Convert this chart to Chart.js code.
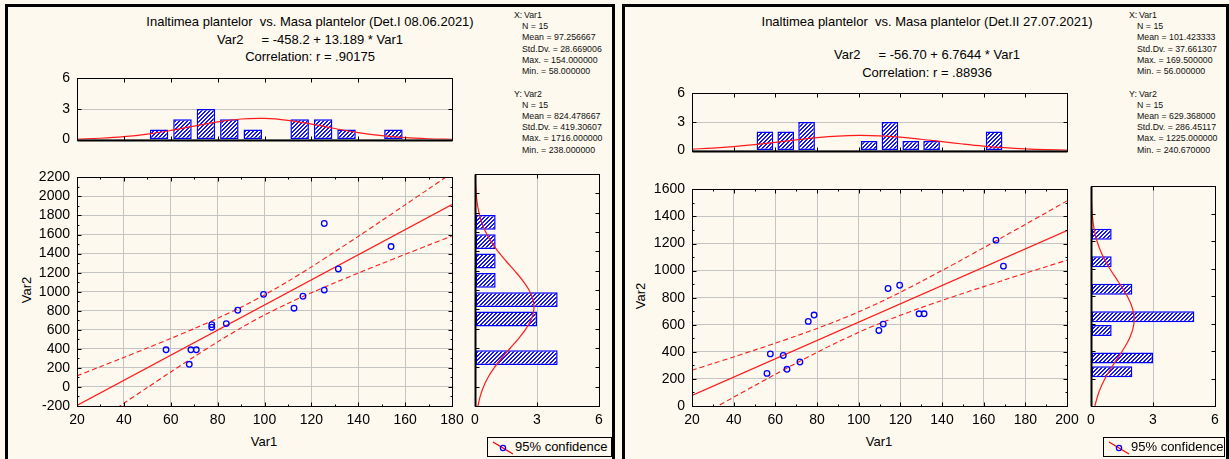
<!DOCTYPE html>
<html><head><meta charset="utf-8">
<script src="https://cdn.jsdelivr.net/npm/chart.js@4/dist/chart.umd.min.js"></script>
<style>
html,body{margin:0;padding:0;background:#fdf9ee;width:1229px;height:459px;overflow:hidden;font-family:"Liberation Sans",Arial,sans-serif;color:#000;}
.panel{position:absolute;top:4px;height:480px;border:3px solid #000;box-sizing:border-box;background:#fdf9ee;}
.t{position:absolute;white-space:pre;font-size:13px;line-height:15px;text-align:center;width:600px;}
.clip{position:absolute;overflow:hidden;}
.s{position:absolute;white-space:pre;font-size:8.8px;line-height:11px;color:#111;}
.ax{position:absolute;white-space:pre;font-size:13px;line-height:16px;text-align:center;width:60px;}
.rot{transform:rotate(-90deg);}
canvas{position:absolute;}
.leg{position:absolute;border:1px solid #000;box-sizing:border-box;height:20px;font-size:13px;line-height:18px;}
.leg svg{position:absolute;left:4px;top:2px;}
.leg span{position:absolute;left:27px;top:0;white-space:pre;}
</style></head><body>
<div class="panel" style="left:5px;width:610px;"></div>
<div class="panel" style="left:622px;width:607px;"></div>

<div class="t" style="left:10px;top:14px;">Inaltimea plantelor  vs. Masa plantelor (Det.I 08.06.2021)</div>
<div class="t" style="left:10px;top:32px;">Var2     = -458.2 + 13.189 * Var1</div>
<div class="t" style="left:10px;top:49px;">Correlation: r = .90175</div>

<div class="t" style="left:627px;top:14px;">Inaltimea plantelor  vs. Masa plantelor (Det.II 27.07.2021)</div>
<div class="t" style="left:627px;top:47px;">Var2     = -56.70 + 6.7644 * Var1</div>
<div class="t" style="left:627px;top:65px;">Correlation: r = .88936</div>

<div class="clip" id="statsL" style="left:510px;top:7px;width:102px;height:155px;"></div>
<div class="clip" id="statsR" style="left:1125px;top:7px;width:101px;height:155px;"></div>

<div class="ax rot" style="left:-3px;top:282px;">Var2</div>
<div class="ax" style="left:234px;top:434px;">Var1</div>
<div class="ax rot" style="left:611px;top:288px;">Var2</div>
<div class="ax" style="left:849px;top:434px;">Var1</div>

<canvas id="scL"></canvas><canvas id="thL"></canvas><canvas id="vhL"></canvas>
<canvas id="scR"></canvas><canvas id="thR"></canvas><canvas id="vhR"></canvas>

<div class="leg" style="left:487px;top:437px;width:125px;"><svg width="22" height="16"><line x1="1" y1="2" x2="21" y2="14" stroke="#ff0000" stroke-width="1.2"/><circle cx="11" cy="8" r="2.6" fill="none" stroke="#0000ff" stroke-width="1.3"/></svg><span>95% confidence</span></div>
<div class="leg" style="left:1103px;top:437px;width:122px;"><svg width="22" height="16"><line x1="1" y1="2" x2="21" y2="14" stroke="#ff0000" stroke-width="1.2"/><circle cx="11" cy="8" r="2.6" fill="none" stroke="#0000ff" stroke-width="1.3"/></svg><span>95% confidence</span></div>

<script>
// ---------------- DATA: Det.I 08.06.2021 ----------------
const var1_I = [58, 68.6, 70.9, 67.9, 77.5, 77.5, 83.7, 88.6, 99.6, 112.6, 116.4, 125.5, 125.5, 131.5, 154];
const var2_I = [390, 390, 390, 238, 654, 627, 665, 805, 972, 827, 952, 1716, 1017, 1239, 1474];
const fitX_I = [20, 180];
const fitY_I = [-194.4, 1915.8];
const bandX_I = [20, 30, 40, 50, 60, 70, 80, 90, 100, 110, 120, 130, 140, 150, 160, 170, 180];
const bandUp_I = [116.5, 213.0, 310.3, 408.8, 509.0, 612.2, 720.5, 837.3, 966.1, 1108.1, 1260.3, 1418.9, 1581.2, 1745.8, 1911.8, 2078.8, 2246.3];
const bandLo_I = [-505.3, -338.0, -171.5, -6.3, 157.3, 317.8, 473.3, 620.3, 755.3, 877.1, 988.7, 1093.9, 1195.3, 1294.5, 1392.2, 1489.0, 1585.3];
const histBinX_I = [55, 65, 75, 85, 95, 105, 115, 125, 135, 145, 155];
const histCntX_I = [1, 2, 3, 2, 1, 0, 2, 2, 1, 0, 1];
const normX_I = [20, 30, 40, 50, 60, 70, 80, 90, 100, 110, 120, 130, 140, 150, 160, 170, 180];
const normXv_I = [0.055, 0.133, 0.284, 0.537, 0.897, 1.328, 1.741, 2.021, 2.078, 1.891, 1.524, 1.087, 0.687, 0.384, 0.190, 0.083, 0.032];
const histBinY_I = [300, 500, 700, 900, 1100, 1300, 1500, 1700];
const histCntY_I = [4, 0, 3, 4, 1, 1, 1, 1];
const normY_I = [-200, -100, 0, 100, 200, 300, 400, 500, 600, 700, 800, 900, 1000, 1100, 1200, 1300, 1400, 1500, 1600, 1700, 1800, 1900, 2000, 2100, 2200];
const normYv_I = [0.144, 0.251, 0.413, 0.642, 0.942, 1.305, 1.710, 2.116, 2.473, 2.731, 2.849, 2.808, 2.615, 2.300, 1.911, 1.500, 1.113, 0.780, 0.516, 0.323, 0.191, 0.106, 0.056, 0.028, 0.013];
const stats_I = [["X:", "Var1"], ["", "N = 15"], ["", "Mean = 97.256667"], ["", "Std.Dv. = 28.669006"], ["", "Max. = 154.000000"], ["", "Min. = 58.000000"],
                 ["Y:", "Var2"], ["", "N = 15"], ["", "Mean = 824.478667"], ["", "Std.Dv. = 419.30607"], ["", "Max. = 1716.000000"], ["", "Min. = 238.000000"]];

// ---------------- DATA: Det.II 27.07.2021 ----------------
const var1_II = [56, 57.6, 63.8, 65.6, 71.8, 75.8, 78.6, 109.7, 111.8, 114.1, 119.7, 129, 131.4, 165.9, 169.5];
const var2_II = [240.67, 385, 373, 271, 325, 625, 672, 558, 605, 868, 892, 681, 681, 1225, 1033];
const fitX_II = [20, 200];
const fitY_II = [78.6, 1296.2];
const bandX_II = [20, 30, 40, 50, 60, 70, 80, 90, 100, 110, 120, 130, 140, 150, 160, 170, 180, 190, 200];
const bandUp_II = [264.4, 313.2, 362.6, 412.8, 464.1, 517.0, 572.4, 631.6, 695.6, 765.3, 840.1, 919.1, 1000.8, 1084.4, 1169.3, 1255.0, 1341.3, 1428.1, 1515.1];
const bandLo_II = [-107.2, -20.8, 65.1, 150.2, 234.3, 316.6, 396.5, 472.6, 543.9, 609.5, 669.9, 726.3, 779.8, 831.5, 881.9, 931.5, 980.5, 1029.0, 1077.3];
const histBinX_II = [55, 65, 75, 85, 95, 105, 115, 125, 135, 145, 155, 165];
const histCntX_II = [2, 2, 3, 0, 0, 1, 3, 1, 1, 0, 0, 2];
const normX_II = [20, 30, 40, 50, 60, 70, 80, 90, 100, 110, 120, 130, 140, 150, 160, 170, 180, 190, 200];
const normXv_II = [0.154, 0.263, 0.420, 0.626, 0.868, 1.122, 1.352, 1.518, 1.588, 1.548, 1.407, 1.191, 0.940, 0.692, 0.474, 0.303, 0.180, 0.100, 0.052];
const histBinY_II = [250, 350, 450, 550, 650, 750, 850, 950, 1050, 1150, 1250];
const histCntY_II = [2, 3, 0, 1, 5, 0, 2, 0, 1, 0, 1];
const normY_II = [0, 100, 200, 300, 400, 500, 600, 700, 800, 900, 1000, 1100, 1200, 1300, 1400, 1500, 1600];
const normYv_II = [0.187, 0.379, 0.679, 1.079, 1.516, 1.887, 2.078, 2.027, 1.750, 1.337, 0.905, 0.542, 0.287, 0.135, 0.056, 0.021, 0.007];
const stats_II = [["X:", "Var1"], ["", "N = 15"], ["", "Mean = 101.423333"], ["", "Std.Dv. = 37.661307"], ["", "Max. = 169.500000"], ["", "Min. = 56.000000"],
                  ["Y:", "Var2"], ["", "N = 15"], ["", "Mean = 629.368000"], ["", "Std.Dv. = 286.45117"], ["", "Max. = 1225.000000"], ["", "Min. = 240.670000"]];

// ---------------- rendering ----------------
const BLUE = '#0000ff', RED = '#ff1a1a', GRID = '#c4c4c4';
Chart.defaults.font.family = "'Liberation Sans', Arial, sans-serif";
Chart.defaults.color = '#000';

function statsText(el, rows) {
  const box = document.getElementById(el);
  rows.forEach((r, i) => {
    const top = (i < 6 ? 3 + i * 11.2 : 81.5 + (i - 6) * 11.2);
    if (r[0]) {
      const a = document.createElement('div'); a.className = 's';
      a.style.left = '4px'; a.style.top = top + 'px'; a.textContent = r[0]; box.appendChild(a);
    }
    const b = document.createElement('div'); b.className = 's';
    b.style.left = (r[0] ? 14 : 12) + 'px'; b.style.top = top + 'px'; b.textContent = r[1]; box.appendChild(b);
  });
}
statsText('statsL', stats_I);
statsText('statsR', stats_II);

function hatch() {
  const c = document.createElement('canvas'); c.width = 4; c.height = 4;
  const g = c.getContext('2d');
  g.fillStyle = '#ffffff'; g.fillRect(0, 0, 4, 4);
  g.fillStyle = '#1414ff';
  for (let y = 0; y < 4; y++) for (let x = 0; x < 4; x++) {
    const k = (x + y) % 4;
    if (k === 3 || k === 0) g.fillRect(x, y, 1, 1);
  }
  return g.createPattern(c, 'repeat');
}
const PAT = hatch();
const plain = v => String(v);

const frame = {
  id: 'frame',
  afterDatasetsDraw(chart, args, o) {
    const { ctx, chartArea: a, scales } = chart;
    const xs = scales.x, ys = scales.y;
    const L = Math.round(a.left) + .5, R = Math.round(a.right) + .5, T = Math.round(a.top) + .5, B = Math.round(a.bottom) + .5;
    ctx.save();
    ctx.strokeStyle = '#000'; ctx.lineWidth = 1;
    ctx.beginPath();
    const tk = (vals, len, horiz) => {
      vals.forEach(v => {
        if (horiz) {
          const p = Math.round(xs.getPixelForValue(v)) + .5;
          ctx.moveTo(p, B); ctx.lineTo(p, B - len); ctx.moveTo(p, T); ctx.lineTo(p, T + len);
        } else {
          const p = Math.round(ys.getPixelForValue(v)) + .5;
          ctx.moveTo(L, p); ctx.lineTo(L + len, p); ctx.moveTo(R, p); ctx.lineTo(R - len, p);
        }
      });
    };
    const xt = xs.ticks.map(t => t.value), yt = ys.ticks.map(t => t.value);
    tk(xt, 4, true); tk(yt, 4, false);
    if (o.minor) {
      const mid = arr => arr.slice(1).map((v, i) => (v + arr[i]) / 2);
      tk(mid(xt), 2, true); tk(mid(yt), 2, false);
    }
    ctx.stroke();
    ctx.strokeRect(L, T, R - L, B - T);
    if (o.thick === 'bottom') { ctx.lineWidth = 2; ctx.beginPath(); ctx.moveTo(L, B); ctx.lineTo(R, B); ctx.stroke(); }
    if (o.thick === 'left') { ctx.lineWidth = 2; ctx.beginPath(); ctx.moveTo(L, T); ctx.lineTo(L, B); ctx.stroke(); }
    ctx.restore();
  }
};

function place(id, rect, ml, mb) {
  const cv = document.getElementById(id);
  const w = rect[2] - rect[0] + ml + 32, h = rect[3] - rect[1] + 12 + mb + 4;
  cv.width = w; cv.height = h;
  cv.style.left = (rect[0] - ml - 12) + 'px'; cv.style.top = (rect[1] - 12) + 'px';
  cv.style.width = w + 'px'; cv.style.height = h + 'px';
  return cv;
}
const baseOpts = (frameOpts) => ({
  responsive: false, animation: false, devicePixelRatio: 1,
  layout: { padding: { left: 12, top: 12, right: 20, bottom: 4 } },
  plugins: { legend: { display: false }, tooltip: { enabled: false }, frame: frameOpts },
  events: []
});
const tickFont = { size: 14 };

function scatter(id, rect, X, Y, fx, fy, bx, bu, bl, xr, yr) {
  const ml = 60, mb = 24;
  const cv = place(id, rect, ml, mb);
  const o = baseOpts({ minor: true });
  o.scales = {
    x: { type: 'linear', min: xr[0], max: xr[1], afterFit: s => { s.height = mb; },
         ticks: { stepSize: xr[2], font: tickFont, padding: 6, maxRotation: 0, autoSkip: false, callback: plain },
         grid: { color: GRID, drawTicks: false }, border: { display: false } },
    y: { type: 'linear', min: yr[0], max: yr[1], afterFit: s => { s.width = ml; },
         ticks: { stepSize: yr[2], font: tickFont, padding: 7, autoSkip: false, callback: plain },
         grid: { color: GRID, drawTicks: false }, border: { display: false } }
  };
  new Chart(cv, {
    type: 'scatter',
    data: { datasets: [
      { data: X.map((x, i) => ({ x, y: Y[i] })), pointRadius: 2.8, pointBorderWidth: 1.3, borderColor: BLUE, backgroundColor: 'rgba(0,0,0,0)', pointStyle: 'circle' },
      { data: fx.map((x, i) => ({ x, y: fy[i] })), showLine: true, borderColor: RED, borderWidth: 1.2, pointRadius: 0 },
      { data: bx.map((x, i) => ({ x, y: bu[i] })), showLine: true, borderColor: RED, borderWidth: 1.1, borderDash: [5, 3], pointRadius: 0, tension: 0.3 },
      { data: bx.map((x, i) => ({ x, y: bl[i] })), showLine: true, borderColor: RED, borderWidth: 1.1, borderDash: [5, 3], pointRadius: 0, tension: 0.3 }
    ] },
    options: o, plugins: [frame]
  });
}

function topHist(id, rect, bins, cnt, nx, nv, xr, pct) {
  const ml = 60, mb = 0;
  const cv = place(id, rect, ml, mb);
  const o = baseOpts({ minor: false, thick: 'bottom' });
  o.scales = {
    x: { type: 'linear', offset: false, min: xr[0], max: xr[1], afterFit: s => { s.height = mb; },
         ticks: { stepSize: xr[2], display: false }, grid: { display: false, offset: false }, border: { display: false } },
    y: { type: 'linear', min: 0, max: 6, afterFit: s => { s.width = ml; },
         ticks: { stepSize: 3, font: tickFont, padding: 7, callback: plain }, grid: { color: GRID, drawTicks: false }, border: { display: false } }
  };
  new Chart(cv, {
    type: 'bar',
    data: { datasets: [
      { type: 'line', data: nx.map((x, i) => ({ x, y: nv[i] })), borderColor: RED, borderWidth: 1.2, pointRadius: 0, tension: 0.4, fill: false },
      { type: 'bar', data: bins.map((x, i) => ({ x, y: cnt[i] || null })), backgroundColor: PAT, borderColor: BLUE, borderWidth: 1.5, borderSkipped: false, categoryPercentage: 1, barPercentage: pct }
    ] },
    options: o, plugins: [frame]
  });
}

function vertHist(id, rect, bins, cnt, ny, nv, yr, pct) {
  const ml = 0, mb = 24;
  const cv = place(id, rect, ml, mb);
  const o = baseOpts({ minor: false, thick: 'left' });
  o.indexAxis = 'y';
  o.scales = {
    x: { type: 'linear', offset: false, min: 0, max: 6, afterFit: s => { s.height = mb; },
         ticks: { stepSize: 3, font: tickFont, padding: 6, maxRotation: 0, callback: plain }, grid: { color: GRID, drawTicks: false, offset: false }, border: { display: false } },
    y: { type: 'linear', offset: false, min: yr[0], max: yr[1], afterFit: s => { s.width = ml; },
         ticks: { stepSize: yr[2], display: false }, grid: { display: false, offset: false }, border: { display: false } }
  };
  new Chart(cv, {
    type: 'bar',
    data: { datasets: [
      { type: 'line', data: ny.map((y, i) => ({ x: nv[i], y })), borderColor: RED, borderWidth: 1.2, pointRadius: 0, tension: 0.4, fill: false },
      { type: 'bar', data: bins.map((y, i) => ({ x: cnt[i] || null, y })), backgroundColor: PAT, borderColor: BLUE, borderWidth: 1.5, borderSkipped: false, categoryPercentage: 1, barPercentage: pct }
    ] },
    options: o, plugins: [frame]
  });
}

// Left panel
scatter('scL', [77, 174, 452, 406], var1_I, var2_I, fitX_I, fitY_I, bandX_I, bandUp_I, bandLo_I, [20, 180, 20], [-200, 2200, 200]);
topHist('thL', [77, 75, 452, 151], histBinX_I, histCntX_I, normX_I, normXv_I, [20, 180, 20], 0.79);
vertHist('vhL', [475, 174, 599, 406], histBinY_I, histCntY_I, normY_I, normYv_I, [-200, 2200, 200], 0.77);
// Right panel
scatter('scR', [692, 186, 1067, 406], var1_II, var2_II, fitX_II, fitY_II, bandX_II, bandUp_II, bandLo_II, [20, 200, 20], [0, 1600, 200]);
topHist('thR', [692, 90, 1067, 162], histBinX_II, histCntX_II, normX_II, normXv_II, [20, 200, 20], 0.8);
vertHist('vhR', [1091, 186, 1215, 406], histBinY_II, histCntY_II, normY_II, normYv_II, [0, 1600, 200], 0.8);
</script>
</body></html>
